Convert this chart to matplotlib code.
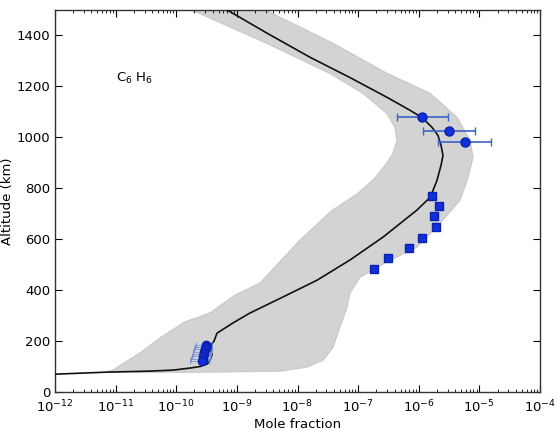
import numpy as np
import matplotlib
matplotlib.use("Agg")
import matplotlib.pyplot as plt

# ---- data ----
# best-fit model profile (mole fraction, altitude km)
model_x = [1e-12, 7.2e-12, 3.7e-11, 8.9e-11, 1.69e-10, 2.47e-10, 3.24e-10, 3.6e-10,
           3.89e-10, 3.74e-10, 3.74e-10, 4.2e-10, 4.7e-10, 8.6e-10, 1.64e-9,
           5.75e-9, 2.1e-8, 7.3e-8, 2.57e-7, 9.3e-7, 1.55e-6, 2.0e-6, 2.33e-6,
           2.51e-6, 2.33e-6, 2.07e-6, 1.66e-6, 1.13e-6, 7.2e-7, 3.0e-7, 7.3e-8,
           1.62e-8, 3.2e-9, 6.9e-10]
model_alt = [70, 78, 82, 86, 94, 100, 110, 125, 145, 165, 184, 200, 231, 271, 310,
             373, 439, 518, 608, 714, 765, 831, 890, 929, 969, 1008, 1039, 1078,
             1106, 1157, 1235, 1314, 1408, 1500]

# envelope of the ensemble of perturbed profiles
env_left_x = [6.7e-12, 9.1e-12, 2.52e-11, 5.4e-11, 1.39e-10, 3.6e-10, 9.3e-10,
              2.4e-9, 1.1e-8, 3.6e-8, 1.0e-7, 1.9e-7, 2.9e-7, 3.76e-7, 4.38e-7,
              4.06e-7, 2.99e-7, 1.2e-7, 3.44e-8, 3.14e-9, 2.47e-10, 1.69e-10]
env_left_alt = [78, 86, 153, 212, 275, 310, 380, 427, 596, 710, 780, 840, 895,
                937, 988, 1039, 1094, 1173, 1251, 1369, 1486, 1500]
env_right_x = [2.91e-9, 3.85e-8, 2.99e-7, 1.53e-6, 4.28e-6, 7.0e-6, 7.85e-6, 6.5e-6,
               4.79e-6, 2.24e-6, 9.35e-7, 2.9e-7, 1.07e-7, 7.3e-8, 6.56e-8, 5.0e-8,
               3.85e-8, 2.63e-8, 1.43e-8, 5.1e-9, 2.47e-10]
env_right_alt = [1500, 1369, 1251, 1173, 1078, 988, 922, 843, 753, 663, 569, 510,
                 451, 388, 333, 255, 176, 125, 98, 82, 78]

# data: circles with error bars (upper atmosphere)
obs_hi_x = [1.14e-6, 3.2e-6, 5.8e-6]
obs_hi_alt = [1078, 1023, 980]
obs_hi_err_lo = [0.71e-6, 2.03e-6, 3.7e-6]
obs_hi_err_hi = [1.91e-6, 5.3e-6, 9.9e-6]

# data: squares
obs_sq_x = [1.66e-6, 2.17e-6, 1.8e-6, 1.94e-6, 1.14e-6, 6.9e-7, 3.1e-7, 1.84e-7]
obs_sq_alt = [769, 729, 690, 647, 604, 565, 525, 482]

# data: circles (stratosphere)
obs_lo_x = [3.1e-10, 3.05e-10, 2.98e-10, 2.92e-10, 2.86e-10, 2.8e-10, 2.73e-10, 2.66e-10]
obs_lo_alt = [185, 176, 167, 158, 149, 140, 131, 122]
obs_lo_err_lo = [1.0e-10] * 8
obs_lo_err_hi = [0.85e-10] * 8

xtick_vals = [1e-12, 1e-11, 1e-10, 1e-9, 1e-8, 1e-7, 1e-6, 1e-5, 1e-4]
ytick_vals = [0, 200, 400, 600, 800, 1000, 1200, 1400]

# ---- figure ----
fig = plt.figure(figsize=(5.58, 4.30), dpi=100)
ax = fig.add_axes([55 / 558, 38 / 430, 485 / 558, 382 / 430])

gray = '#d3d3d3'
poly_x = list(env_left_x) + list(env_right_x)
poly_y = list(env_left_alt) + list(env_right_alt)
ax.fill(poly_x, poly_y, color=gray, lw=1.0, ec='#cbcbcb', zorder=1)

ax.plot(model_x, model_alt, color='#111111', lw=1.2, zorder=3)

ax.errorbar(obs_hi_x, obs_hi_alt, xerr=[obs_hi_err_lo, obs_hi_err_hi], fmt='o',
            color='#1230d8', ecolor='#3a64c8', elinewidth=1.2, capsize=3,
            ms=6.5, mec='#0a20b0', zorder=4)
ax.errorbar(obs_lo_x, obs_lo_alt, xerr=[obs_lo_err_lo, obs_lo_err_hi], fmt='o',
            color='#1230d8', ecolor='#6a88d8', elinewidth=0.5, capsize=2,
            capthick=0.6, ms=6, mec='#0a20b0', zorder=4)
ax.plot(obs_sq_x, obs_sq_alt, 's', color='#1230d8', mec='#0a20b0', ms=6, zorder=4)

ax.text(1.0e-11, 1232, 'C$_6$ H$_6$', fontsize=9.5, va='center', ha='left')

ax.set_xscale('log')
ax.set_xlim(1e-12, 1e-4)
ax.set_ylim(0, 1500)
ax.set_xticks(xtick_vals)
ax.set_yticks(ytick_vals)
ax.tick_params(which='both', direction='in', top=True, right=True, labelsize=9.5)
ax.tick_params(which='major', length=5)
ax.tick_params(which='minor', length=2.5)
ax.tick_params(axis='x', pad=5)
for s in ax.spines.values():
    s.set_linewidth(1.0)
    s.set_color('#333333')
ax.set_xlabel('Mole fraction', fontsize=9.5, labelpad=2)
ax.set_ylabel('Altitude (km)', fontsize=9.5, labelpad=2)

fig.savefig('out.png', dpi=100)
